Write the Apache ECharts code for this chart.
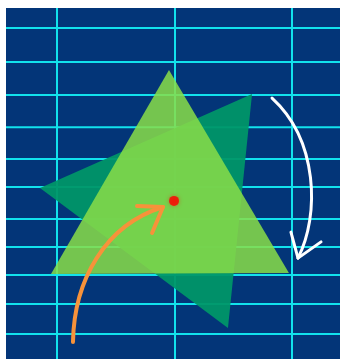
<!DOCTYPE html>
<html><head><meta charset="utf-8">
<script src="https://cdn.jsdelivr.net/npm/echarts@6/dist/echarts.min.js"></script>
<style>html,body{margin:0;background:#fff;width:340px;height:359px;overflow:hidden}
#c{position:absolute;left:6px;top:8px;width:334px;height:351px}</style>
</head><body><div id="c"></div>
<script>
// horizontal grid rows (y units)
const rowLines = [1, 2.11, 3.19, 4.24, 5.28, 6.20, 7.24, 8.16, 9.07, 10.02, 11];
// shapes in axis units
const lightTriangle = [[195.3, 2.37], [94.9, 9.04], [297.4, 9.01]];
const darkTriangle = [[266, 3.16], [85.5, 6.23], [245.5, 10.8]];
const pivot = [[199.6, 6.65]];
const orangeCurve = [[113.6, 11.26], [114.5, 9.24], [140.9, 7.44], [190.2, 6.85]];
const orangeHead = [[168.1, 6.82], [190.2, 6.85], [180.9, 7.70]];
const whiteCurve = [[283, 3.29], [322.1, 4.66], [323.8, 7.11], [305.1, 8.52]];
const whiteHead = [[299.1, 7.67], [305.1, 8.52], [324.7, 7.99]];

const GRIDLINE = '#12E2EC';
const chart = echarts.init(document.getElementById('c'), null, {renderer: 'canvas'});

function polySeries(pts, fill, z) {
  return {
    type: 'custom', z: z, silent: true, clip: false,
    data: pts, encode: {x: 0, y: 1},
    renderItem: function (params, api) {
      if (params.dataIndex !== 0) return null;
      return {type: 'polygon', shape: {points: pts.map(p => api.coord(p))}, style: {fill: fill}};
    }
  };
}
function curveSeries(curve, head, color, width, z) {
  return {
    type: 'custom', z: z, silent: true, clip: false,
    data: curve, encode: {x: 0, y: 1},
    renderItem: function (params, api) {
      if (params.dataIndex !== 0) return null;
      const c = curve.map(p => api.coord(p));
      const h = head.map(p => api.coord(p));
      return {type: 'group', children: [
        {type: 'bezierCurve', shape: {x1: c[0][0], y1: c[0][1], cpx1: c[1][0], cpy1: c[1][1], cpx2: c[2][0], cpy2: c[2][1], x2: c[3][0], y2: c[3][1]},
          style: {stroke: color, lineWidth: width, fill: null, lineCap: 'round'}},
        {type: 'polyline', shape: {points: h},
          style: {stroke: color, lineWidth: width, fill: null, lineCap: 'round', lineJoin: 'round'}}
      ]};
    }
  };
}

chart.setOption({
  animation: false,
  backgroundColor: '#033578',
  grid: {left: -66.5, top: -10.6, width: 470, height: 367.2, containLabel: false, outerBoundsMode: 'none'},
  xAxis: {type: 'value', min: 0, max: 400, interval: 100,
    axisLine: {show: false}, axisTick: {show: false}, axisLabel: {show: false},
    splitLine: {show: true, lineStyle: {color: GRIDLINE, width: 2}}},
  yAxis: {type: 'value', min: 0, max: 12, interval: 1, inverse: true,
    axisLine: {show: false}, axisTick: {show: false}, axisLabel: {show: false},
    splitLine: {show: false}},
  series: [
    {
      type: 'custom', z: 1, silent: true,
      data: rowLines.map(v => [0, v]), encode: {x: 0, y: 1},
      renderItem: function (params, api) {
        const v = api.value(1);
        const a = api.coord([0, v]), b = api.coord([400, v]);
        return {type: 'line', shape: {x1: a[0], y1: a[1], x2: b[0], y2: b[1]}, style: {stroke: GRIDLINE, lineWidth: 2}};
      }
    },
    polySeries(darkTriangle, 'rgba(0,150,104,0.94)', 3),
    polySeries(lightTriangle, 'rgba(138,222,72,0.85)', 4),
    {
      type: 'scatter', z: 6, silent: true, data: pivot, symbolSize: 10,
      itemStyle: {color: '#FF0000', shadowBlur: 4, shadowColor: 'rgba(255,0,0,0.5)'}
    },
    curveSeries(orangeCurve, orangeHead, '#F7923A', 4, 7),
    curveSeries(whiteCurve, whiteHead, '#FFFFFF', 3, 7)
  ]
});
</script></body></html>
